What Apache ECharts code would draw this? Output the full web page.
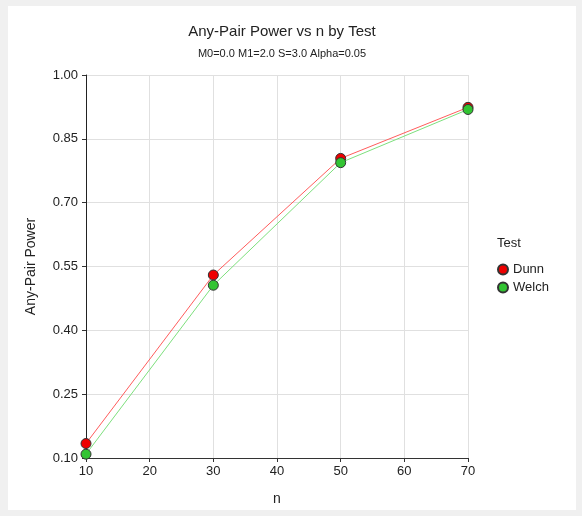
<!DOCTYPE html>
<html>
<head>
<meta charset="utf-8">
<script src="https://cdn.jsdelivr.net/npm/echarts@6/dist/echarts.min.js"></script>
<style>
  html, body { margin: 0; padding: 0; background: #f0f0f0; }
  #chart { width: 582px; height: 516px; }
</style>
</head>
<body>
<div id="chart"></div>
<script>
// Sample sizes on the x axis
const nValues = [10, 30, 50, 70];
// Any-pair power for each test
const dunnPower = [0.134, 0.530, 0.804, 0.924];
const welchPower = [0.109, 0.506, 0.794, 0.919];
// Axis ranges and tick steps
const xTicks = { min: 10, max: 70, step: 10 };
const yTicks = { min: 0.10, max: 1.00, step: 0.15 };

const font = 'Liberation Sans, Arial, sans-serif';
const chart = echarts.init(document.getElementById('chart'), null, { renderer: 'canvas' });

function pairs(xs, ys) { return xs.map((x, i) => [x, ys[i]]); }

chart.setOption({
  backgroundColor: '#f0f0f0',
  animation: false,
  graphic: [
    { type: 'rect', z: -10, shape: { x: 8, y: 6, width: 568, height: 504 }, style: { fill: '#ffffff' } },
    { type: 'text', left: 497, top: 237, style: { text: 'Test', font: '13px ' + font, fill: '#222' } }
  ],
  title: [
    { text: 'Any-Pair Power vs n by Test', left: 277, top: 19, textAlign: 'center',
      textStyle: { fontFamily: font, fontSize: 15, fontWeight: 'normal', color: '#222' } },
    { text: 'M0=0.0 M1=2.0 S=3.0 Alpha=0.05', left: 277, top: 43, textAlign: 'center',
      textStyle: { fontFamily: font, fontSize: 11, fontWeight: 'normal', color: '#222' } }
  ],
  legend: {
    orient: 'vertical', left: 492, top: 258, itemGap: 5,
    itemWidth: 10, itemHeight: 10, icon: 'circle',
    textStyle: { fontFamily: font, fontSize: 13, color: '#222' },
    data: ['Dunn', 'Welch']
  },
  grid: { left: 86, right: 114, top: 75, bottom: 58, containLabel: false },
  xAxis: {
    type: 'value', min: xTicks.min, max: xTicks.max, interval: xTicks.step,
    name: 'n', nameLocation: 'middle', nameGap: 34,
    nameTextStyle: { fontFamily: font, fontSize: 14, color: '#222' },
    axisLine: { show: true, lineStyle: { color: '#333', width: 1 } },
    axisTick: { show: true, length: 4, lineStyle: { color: '#333' } },
    axisLabel: { fontFamily: font, fontSize: 13, color: '#222', margin: 7 },
    splitLine: { show: true, lineStyle: { color: '#e0e0e0', width: 1 } }
  },
  yAxis: {
    type: 'value', min: yTicks.min, max: yTicks.max, interval: yTicks.step,
    name: 'Any-Pair Power', nameLocation: 'middle', nameGap: 48,
    nameTextStyle: { fontFamily: font, fontSize: 14, color: '#222' },
    axisLine: { show: true, lineStyle: { color: '#222', width: 1 } },
    axisTick: { show: true, length: 4, lineStyle: { color: '#333' } },
    axisLabel: { fontFamily: font, fontSize: 13, color: '#222', margin: 8,
      formatter: v => v.toFixed(2) },
    splitLine: { show: true, lineStyle: { color: '#e0e0e0', width: 1 } }
  },
  series: [
    {
      name: 'Dunn', type: 'line', data: pairs(nValues, dunnPower),
      symbol: 'circle', symbolSize: 10,
      itemStyle: { color: '#ee0000', borderColor: '#333', borderWidth: 1 },
      lineStyle: { color: '#ff5c5c', width: 1 },
      emphasis: { disabled: true }, z: 2
    },
    {
      name: 'Welch', type: 'line', data: pairs(nValues, welchPower),
      symbol: 'circle', symbolSize: 10,
      itemStyle: { color: '#33c433', borderColor: '#333', borderWidth: 1 },
      lineStyle: { color: '#7de07d', width: 1 },
      emphasis: { disabled: true }, z: 3
    }
  ]
});
</script>
</body>
</html>
